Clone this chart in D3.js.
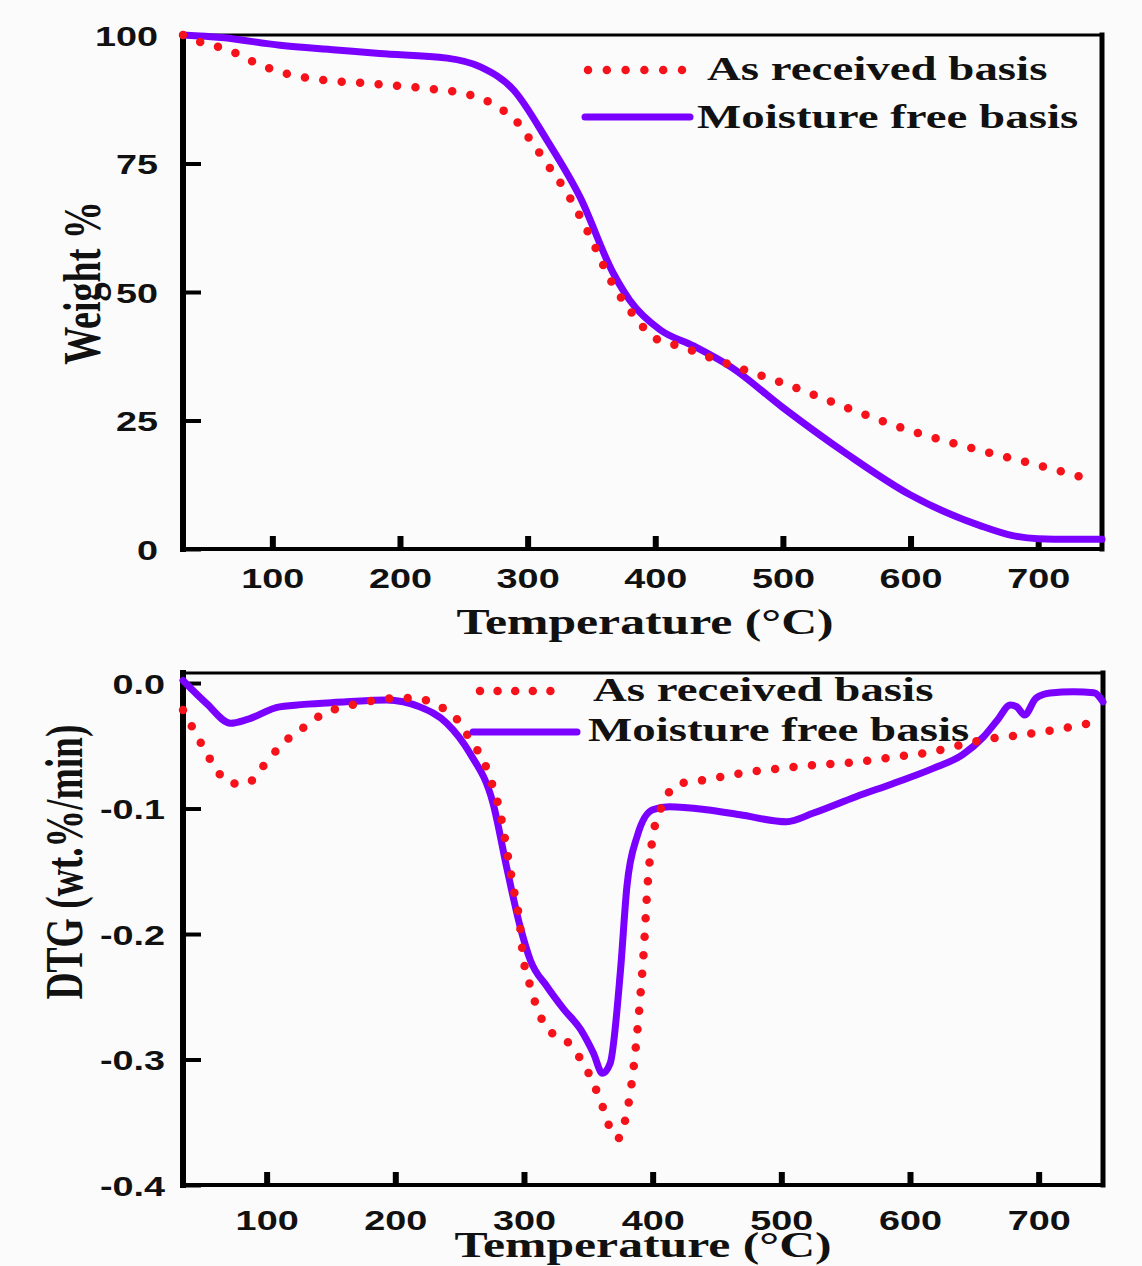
<!DOCTYPE html>
<html>
<head>
<meta charset="utf-8">
<script src="https://cdn.jsdelivr.net/npm/d3@7"></script>
<style>
  body { margin: 0; background: #fbfbfb; }
  svg { display: block; }
</style>
</head>
<body>
<div id="chart"></div>
<script>
// values
const seriesNames = ["As received basis", "Moisture free basis"];
const tempTicks = [100, 200, 300, 400, 500, 600, 700];
const weightTicks = [0, 25, 50, 75, 100];
const dtgTicks = [0, -0.1, -0.2, -0.3, -0.4];

// TGA, as received
const tgaRecvTemp = [30, 43, 60, 72, 85, 111, 141, 174, 221, 249, 265, 278, 291, 300, 315, 331, 349, 365, 380, 400, 420, 450, 480, 500, 550, 600, 650, 700, 738];
const tgaRecvWt   = [100, 98.7, 97.5, 96.4, 94.8, 92.5, 91.2, 90.6, 89.6, 88.7, 87.5, 85.8, 83.3, 80.3, 75, 69.2, 60.8, 52.3, 46.5, 41, 39.4, 36.6, 34, 32.3, 27.5, 23, 19.5, 16.3, 13.7];

// TGA, moisture free
const tgaDryTemp = [30, 60, 106, 150, 184, 237, 263, 289, 315, 341, 367, 380, 404, 430, 460, 500, 550, 600, 655, 680, 700, 725, 750];
const tgaDryWt   = [100, 99.5, 98, 97.1, 96.4, 95.5, 93.8, 89.3, 79.6, 68.5, 53.7, 48.4, 42.6, 39.5, 35.3, 27.5, 18.5, 10.5, 4.5, 2.6, 2, 1.9, 1.9];

// DTG, as received
const dtgRecvTemp = [35, 41, 54, 61, 72, 85, 95, 110, 122, 134, 144, 157, 173, 201, 216, 232, 245, 260, 268, 276, 281, 287, 291, 297, 299, 305, 313, 318, 332, 341, 354, 362, 367, 373, 378, 385, 390, 393, 396, 400, 405, 410, 418, 442, 468, 499, 530, 558, 587, 616, 641, 659, 685, 714, 740, 750];
const dtgRecvVal  = [-0.0215, -0.033, -0.057, -0.069, -0.08, -0.08, -0.069, -0.051, -0.04, -0.032, -0.024, -0.02, -0.016, -0.012, -0.012, -0.0175, -0.0255, -0.048, -0.061, -0.083, -0.101, -0.135, -0.159, -0.194, -0.215, -0.242, -0.266, -0.276, -0.284, -0.295, -0.319, -0.34, -0.355, -0.363, -0.351, -0.308, -0.255, -0.215, -0.162, -0.123, -0.104, -0.092, -0.081, -0.077, -0.072, -0.068, -0.065, -0.063, -0.059, -0.055, -0.049, -0.0448, -0.0415, -0.037, -0.032, -0.0295];

// DTG, moisture free
const dtgDryTemp = [35, 53, 72, 85, 110, 162, 193, 219, 240, 258, 276, 287, 297, 305, 318, 331, 344, 354, 361, 367, 375, 380, 388, 400, 413, 442, 468, 504, 525, 558, 587, 618, 641, 657, 668, 678, 683, 689, 698, 709, 727, 743, 750];
const dtgDryVal  = [0.002, -0.016, -0.032, -0.029, -0.019, -0.015, -0.0135, -0.019, -0.032, -0.056, -0.096, -0.149, -0.194, -0.221, -0.242, -0.26, -0.276, -0.295, -0.311, -0.303, -0.229, -0.162, -0.122, -0.101, -0.0986, -0.101, -0.105, -0.1105, -0.1036, -0.0906, -0.08, -0.068, -0.057, -0.043, -0.0295, -0.0175, -0.019, -0.0255, -0.012, -0.008, -0.007, -0.0077, -0.015];

const RED = "#f5121a", PURPLE = "#7a00ff";
const SANS = "'Liberation Sans', Arial, sans-serif";
const SERIF = "'Liberation Serif', 'Times New Roman', serif";

const svg = d3.select("#chart").append("svg")
    .attr("width", 1142)
    .attr("height", 1266);

function drawPanel(p) {
  const x = d3.scaleLinear().domain(p.xDomain).range([p.left, p.right]);
  const y = d3.scaleLinear().domain(p.yDomain).range([p.bottom, p.top]);
  const g = svg.append("g");

  // bottom axis, ticks pointing inward
  const xa = g.append("g")
      .attr("transform", "translate(0," + p.bottom + ")")
      .call(d3.axisBottom(x).tickValues(tempTicks).tickSizeInner(-13).tickSizeOuter(0));
  xa.select(".domain").remove();
  xa.selectAll(".tick line").attr("stroke", "#000").attr("stroke-width", 6);
  xa.selectAll(".tick text")
      .attr("y", null).attr("dy", null)
      .attr("transform", "translate(0," + p.xTickOffset + ") scale(1.35,1)")
      .attr("fill", "#111")
      .style("font-family", SANS).style("font-weight", "bold").style("font-size", "28px");

  // left axis
  const ya = g.append("g")
      .attr("transform", "translate(" + p.left + ",0)")
      .call(d3.axisLeft(y).tickValues(p.yTicks).tickFormat(p.yFormat).tickSizeInner(-18).tickSizeOuter(0));
  ya.select(".domain").remove();
  ya.selectAll(".tick line").attr("stroke", "#000").attr("stroke-width", 4);
  ya.selectAll(".tick text")
      .attr("x", null).attr("dy", "0.36em")
      .attr("transform", "translate(" + (-p.yTickGap) + ",0) scale(1.35,1)")
      .attr("fill", "#111")
      .style("font-family", SANS).style("font-weight", "bold").style("font-size", "28px");

  // frame
  const frame = [
    [p.left, p.top, p.left, p.bottom, 6],
    [p.right, p.top, p.right, p.bottom, 5],
    [p.left, p.top, p.right, p.top, 3],
    [p.left, p.bottom, p.right, p.bottom, 4]
  ];
  g.selectAll(".frame").data(frame).join("line")
      .attr("x1", d => d[0]).attr("y1", d => d[1])
      .attr("x2", d => d[2]).attr("y2", d => d[3])
      .attr("stroke", "#000").attr("stroke-width", d => d[4])
      .attr("stroke-linecap", "square");

  const line = d3.line()
      .x(d => x(d[0]))
      .y(d => y(d[1]))
      .curve(d3.curveMonotoneX);

  g.append("path")
      .datum(d3.zip(p.dryT, p.dryV))
      .attr("d", line)
      .attr("fill", "none")
      .attr("stroke", PURPLE)
      .attr("stroke-width", 7)
      .attr("stroke-linejoin", "round")
      .attr("stroke-linecap", "round");

  g.append("path")
      .datum(d3.zip(p.recvT, p.recvV))
      .attr("d", line)
      .attr("fill", "none")
      .attr("stroke", RED)
      .attr("stroke-width", 8.5)
      .attr("stroke-linecap", "round")
      .attr("stroke-dasharray", "0 18.5");

  // axis titles
  g.append("text")
      .attr("transform", "translate(" + p.xTitle[0] + "," + p.xTitle[1] + ") scale(1.42,1)")
      .attr("text-anchor", "middle")
      .style("font-family", SERIF).style("font-weight", "bold").style("font-size", "35px")
      .attr("fill", "#111")
      .text("Temperature (°C)");

  g.append("text")
      .attr("transform", "translate(" + p.yTitle[0] + "," + p.yTitle[1] + ") scale(1.4,1) rotate(-90)")
      .attr("text-anchor", "middle")
      .style("font-family", SERIF).style("font-weight", "bold").style("font-size", p.yTitleSize + "px")
      .attr("fill", "#111")
      .text(p.yLabel);

  // legend
  const lg = p.legend;
  g.append("line")
      .attr("x1", lg.dots[0]).attr("x2", lg.dots[1])
      .attr("y1", lg.dots[2]).attr("y2", lg.dots[2])
      .attr("stroke", RED).attr("stroke-width", 8.5)
      .attr("stroke-linecap", "round")
      .attr("stroke-dasharray", "0 " + ((lg.dots[1] - lg.dots[0]) / 5));
  g.append("line")
      .attr("x1", lg.solid[0]).attr("x2", lg.solid[1])
      .attr("y1", lg.solid[2]).attr("y2", lg.solid[2])
      .attr("stroke", PURPLE).attr("stroke-width", 7)
      .attr("stroke-linecap", "round");
  g.selectAll(".legend-label").data(seriesNames).join("text")
      .attr("transform", (d, i) => "translate(" + lg.text[i][0] + "," + lg.text[i][1] + ") scale(1.4,1)")
      .style("font-family", SERIF).style("font-weight", "bold").style("font-size", "33.5px")
      .attr("fill", "#111")
      .text(d => d);
}

drawPanel({
  left: 183, right: 1102, top: 35, bottom: 549,
  xDomain: [30, 750], yDomain: [0, 100],
  yTicks: weightTicks, yFormat: d3.format("d"),
  xTickOffset: 39, yTickGap: 25,
  xTitle: [645, 634], yTitle: [100, 283], yTitleSize: 38, yLabel: "Weight %",
  recvT: tgaRecvTemp, recvV: tgaRecvWt, dryT: tgaDryTemp, dryV: tgaDryWt,
  legend: { dots: [588, 682, 70], solid: [585, 690, 117], text: [[707, 80], [697, 128]] }
});

drawPanel({
  left: 183, right: 1103, top: 673, bottom: 1185,
  xDomain: [35, 750], yDomain: [-0.4, 0.008],
  yTicks: dtgTicks, yFormat: d => d === 0 ? "0.0" : d3.format(".1f")(d).replace("−", "-"),
  xTickOffset: 45, yTickGap: 18,
  xTitle: [643, 1257], yTitle: [82, 862], yTitleSize: 37.5, yLabel: "DTG (wt.%/min)",
  recvT: dtgRecvTemp, recvV: dtgRecvVal, dryT: dtgDryTemp, dryV: dtgDryVal,
  legend: { dots: [480, 568, 691], solid: [473, 577, 732], text: [[593, 701], [588, 741]] }
});
</script>
</body>
</html>
